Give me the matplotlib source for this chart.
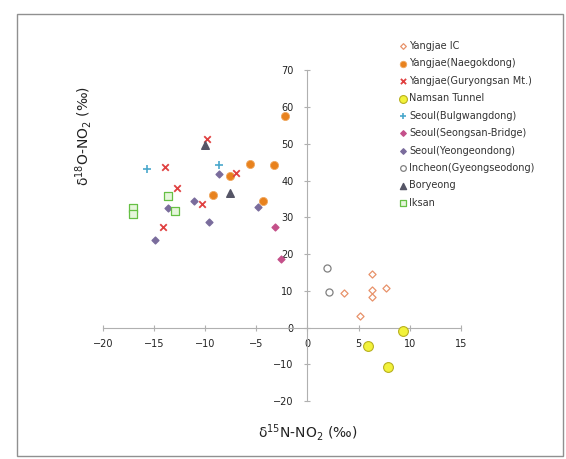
import matplotlib.pyplot as plt
from matplotlib.patches import Rectangle

# d15N / d18O of NO2 per sampling site
yangjae_ic_x = [3.6, 6.3, 6.3, 6.3, 7.7, 5.1]
yangjae_ic_y = [9.5, 14.5, 10.2, 8.3, 10.8, 3.2]

naegokdong_x = [-2.2, -5.6, -3.3, -7.6, -9.2, -4.3]
naegokdong_y = [57.6, 44.6, 44.1, 41.2, 36.2, 34.4]

guryongsan_x = [-9.8, -13.9, -7.0, -12.8, -10.3, -14.1]
guryongsan_y = [51.2, 43.7, 42.1, 38.1, 33.5, 27.3]

namsan_x = [9.4, 5.9, 7.9]
namsan_y = [-1.0, -4.9, -10.7]

bulgwang_x = [-15.7, -8.7]
bulgwang_y = [43.2, 44.2]

seongsan_x = [-3.2, -2.6]
seongsan_y = [27.3, 18.7]

yeongeon_x = [-8.7, -11.1, -13.6, -4.8, -9.6, -14.9]
yeongeon_y = [41.9, 34.5, 32.4, 32.9, 28.6, 23.9]

incheon_x = [1.9, 2.1]
incheon_y = [16.3, 9.7]

boryeong_x = [-10.0, -7.6]
boryeong_y = [49.6, 36.5]

iksan_x = [-17.1, -17.1, -13.6, -13.0]
iksan_y = [32.4, 31.0, 35.9, 31.6]

x_ticks = [-20, -15, -10, -5, 0, 5, 10, 15]
y_ticks = [-20, -10, 0, 10, 20, 30, 40, 50, 60, 70]

fig = plt.figure(figsize=(5.66, 4.59), dpi=100)
ax = fig.add_axes([0.182, 0.126, 0.632, 0.721])

ax.scatter(yangjae_ic_x, yangjae_ic_y, marker='D', s=13, facecolors='white',
           edgecolors='#e8926a', linewidths=0.9, label='Yangjae IC', zorder=3)
ax.scatter(naegokdong_x, naegokdong_y, marker='o', s=34, color='#e8821e',
           edgecolors='#f0a860', linewidths=0.6, label='Yangjae(Naegokdong)', zorder=3)
ax.scatter(guryongsan_x, guryongsan_y, marker='x', s=22, color='#e04040',
           linewidths=1.3, label='Yangjae(Guryongsan Mt.)', zorder=3)
ax.scatter(namsan_x, namsan_y, marker='o', s=50, color='#f2f23a',
           edgecolors='#b8b020', linewidths=0.8, label='Namsan Tunnel', zorder=3)
ax.scatter(bulgwang_x, bulgwang_y, marker='+', s=34, color='#4aa8cc',
           linewidths=1.2, label='Seoul(Bulgwangdong)', zorder=3)
ax.scatter(seongsan_x, seongsan_y, marker='D', s=12, color='#c4508a',
           label='Seoul(Seongsan-Bridge)', zorder=3)
ax.scatter(yeongeon_x, yeongeon_y, marker='D', s=12, color='#7a6c9c',
           label='Seoul(Yeongeondong)', zorder=3)
ax.scatter(incheon_x, incheon_y, marker='o', s=26, facecolors='white',
           edgecolors='#808080', linewidths=0.9, label='Incheon(Gyeongseodong)', zorder=3)
ax.scatter(boryeong_x, boryeong_y, marker='^', s=30, color='#555566',
           label='Boryeong', zorder=3)
ax.scatter(iksan_x, iksan_y, marker='s', s=30, facecolors='#e6f6dc',
           edgecolors='#66c044', linewidths=0.9, label='Iksan', zorder=3)

ax.set_xlim(-20, 15)
ax.set_ylim(-20, 70)
ax.set_xticks(x_ticks)
ax.set_yticks(y_ticks)

for side in ['top', 'right']:
    ax.spines[side].set_visible(False)
ax.spines['left'].set_position(('data', 0))
ax.spines['bottom'].set_position(('data', 0))
ax.spines['left'].set_color('#b0b0b0')
ax.spines['bottom'].set_color('#b0b0b0')
ax.tick_params(direction='inout', length=4, color='#b0b0b0', labelsize=7,
               labelcolor='#222222')
ax.tick_params(axis='x', pad=6)
ax.tick_params(axis='y', pad=8)
ax.patch.set_alpha(0)

fig.text(0.543, 0.058, 'δ$^{15}$N-NO$_2$ (‰)', ha='center', va='center',
         fontsize=10, color='#222222')
fig.text(0.147, 0.704, 'δ$^{18}$O-NO$_2$ (‰)', ha='center', va='center',
         rotation=90, fontsize=10, color='#222222')

leg = ax.legend(loc='upper left', bbox_to_anchor=(0.695, 0.92),
                bbox_transform=fig.transFigure, frameon=False, fontsize=7,
                handletextpad=0.0, labelspacing=0.77, borderaxespad=0,
                markerscale=0.8, handlelength=1.2)
for t in leg.get_texts():
    t.set_color('#333333')

fig.patches.append(Rectangle((0.030, 0.007), 0.965, 0.962, transform=fig.transFigure,
                             fill=False, edgecolor='#909090', linewidth=1.0))

fig.savefig('out.png', dpi=100)
